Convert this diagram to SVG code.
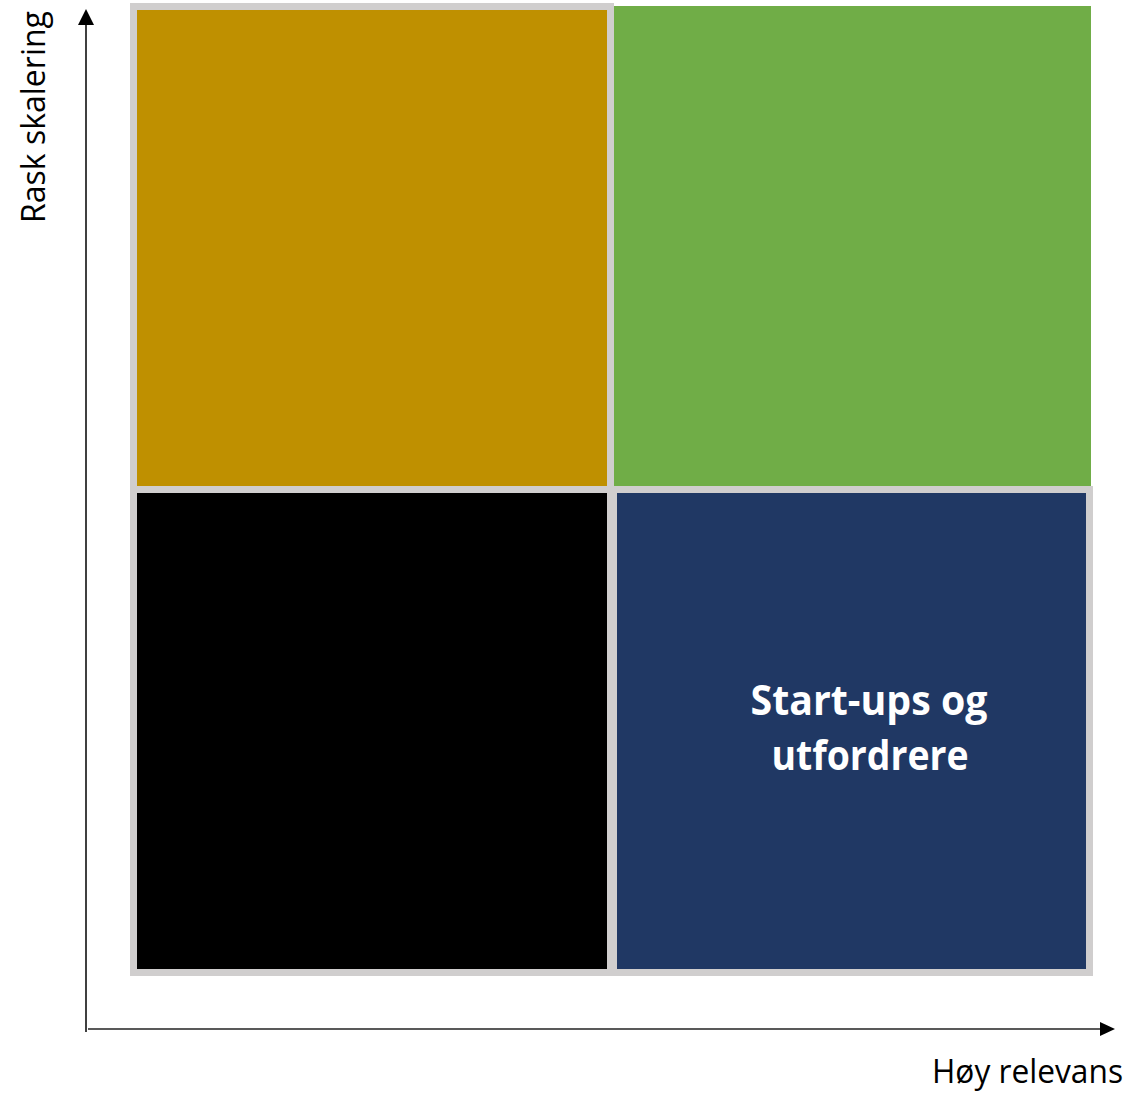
<svg xmlns="http://www.w3.org/2000/svg" width="1130" height="1094" viewBox="0 0 1130 1094">
  <style>
    .box { stroke: #D0CECE; stroke-width: 7; }
    .lbl { font-family: "Open Sans", "Liberation Sans", sans-serif; font-size: 32px; fill: #000; }
    .title { font-family: "Open Sans", "Liberation Sans", sans-serif; font-size: 42px; font-weight: bold; fill: #FFFFFF; text-anchor: middle; }
  </style>
  <rect width="1130" height="1094" fill="#FFFFFF"/>
  <g id="q-top-left">
    <rect class="box" x="133.5" y="6.5" width="477" height="483" fill="#BF9000"/>
  </g>
  <g id="q-top-right">
    <rect x="614" y="6" width="477" height="483" fill="#70AD47"/>
  </g>
  <g id="q-bottom-left">
    <rect class="box" x="133.5" y="489.5" width="477" height="483" fill="#000000"/>
  </g>
  <g id="q-bottom-right">
    <rect class="box" x="613.5" y="489.5" width="476" height="483" fill="#203864"/>
    <text class="title" x="869" y="715" textLength="237" lengthAdjust="spacingAndGlyphs">Start-ups og</text>
    <text class="title" x="870" y="770" textLength="197" lengthAdjust="spacingAndGlyphs">utfordrere</text>
  </g>
  <g id="connectors">
    <line x1="86" y1="1032" x2="86" y2="24" stroke="#000000" stroke-width="1.5"/>
    <polygon points="78,25 94,25 86,9" fill="#000000"/>
    <line x1="88" y1="1029" x2="1101" y2="1029" stroke="#595959" stroke-width="2"/>
    <polygon points="1100,1022 1100,1036 1115,1029" fill="#000000"/>
  </g>
  <g id="axis-labels">
    <text class="lbl" transform="translate(45,223) rotate(-90)" textLength="212" lengthAdjust="spacingAndGlyphs">Rask skalering</text>
    <text class="lbl" x="932" y="1083" textLength="191" lengthAdjust="spacingAndGlyphs">Høy relevans</text>
  </g>
</svg>
